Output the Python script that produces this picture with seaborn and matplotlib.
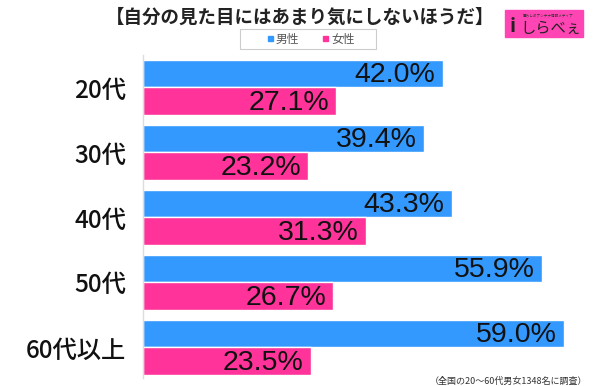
import matplotlib
matplotlib.use("Agg")
import matplotlib.pyplot as plt
import seaborn as sns
import pandas as pd
from matplotlib.patches import Rectangle

categories = ["20代", "30代", "40代", "50代", "60代以上"]
male = [42.0, 39.4, 43.3, 55.9, 59.0]
female = [27.1, 23.2, 31.3, 26.7, 23.5]
series = ["男性", "女性"]
colors = ["#3399FF", "#FF3399"]

title = "【自分の見た目にはあまり気にしないほうだ】"
note = "（全国の20～60代男女1348名に調査）"

rows = []
for c, m, f in zip(categories, male, female):
    rows.append({"cat": c, "series": series[0], "val": m})
    rows.append({"cat": c, "series": series[1], "val": f})
df = pd.DataFrame(rows)

sns.set_theme(style="white")
plt.rcParams['font.family'] = ['Noto Sans CJK JP', 'DejaVu Sans']

fig = plt.figure(figsize=(6, 3.86), dpi=100)
ax = fig.add_axes([143/600, 1-378/386, 428/600, 323/386])
sns.barplot(data=df, y="cat", x="val", hue="series", palette=colors,
            orient="h", width=0.85, ax=ax, legend=False, saturation=1)

ax.set_xlim(0, 60)
ax.set_ylim(4.47, -0.5)
ax.set_xlabel("")
ax.set_ylabel("")
ax.set_xticks([])
ax.tick_params(axis="y", length=0, pad=12, labelsize=17.5, labelcolor="#111111")
for lbl in ax.get_yticklabels():
    lbl.set_fontweight("medium")
for s in ["top", "right", "bottom"]:
    ax.spines[s].set_visible(False)
ax.spines["left"].set_color("#dddddd")
ax.spines["left"].set_linewidth(1)

for cont in ax.containers:
    for bar in cont:
        w = bar.get_width()
        y = bar.get_y() + bar.get_height() / 2
        ax.text(w - 1.0, y + 0.02, f"{w:.1f}%", ha="right", va="center",
                fontsize=20.5, color="#111111", family=["Liberation Sans", "DejaVu Sans"])

fig.text(0.5, 1-17/386, title, ha="center", va="center", fontsize=13.3,
         fontweight="bold", color="#222222")

# legend box
fig.patches.append(Rectangle((240/600, 1-49/386), 136/600, 20/386,
                             transform=fig.transFigure, fill=False,
                             edgecolor="#cccccc", linewidth=0.8))
fig.patches.append(Rectangle((268/600, 1-41/386), 5/600, 5/386,
                             transform=fig.transFigure, color=colors[0]))
fig.text(276/600, 1-39/386, series[0], ha="left", va="center", fontsize=8.5, color="#555555")
fig.patches.append(Rectangle((323/600, 1-41/386), 5/600, 5/386,
                             transform=fig.transFigure, color=colors[1]))
fig.text(331/600, 1-39/386, series[1], ha="left", va="center", fontsize=8.5, color="#555555")

# logo
fig.patches.append(Rectangle((505/600, 1-37/386), 78/600, 27/386,
                             transform=fig.transFigure, color="#FF44B4"))
fig.text(548/600, 1-15.5/386, "暮らしのアンテナ情報メディア", ha="center", va="center",
         fontsize=2.6, color="#333333")
fig.text(551/600, 1-28/386, "しらべぇ", ha="center", va="center",
         fontsize=11, color="#222222")
fig.text(513/600, 1-26/386, "i", ha="center", va="center",
         fontsize=14, fontweight="bold", color="#222222")

fig.text(587/600, 1-381/386, note, ha="right", va="center", fontsize=6.5, color="#333333")

fig.savefig("out.png", dpi=100)
